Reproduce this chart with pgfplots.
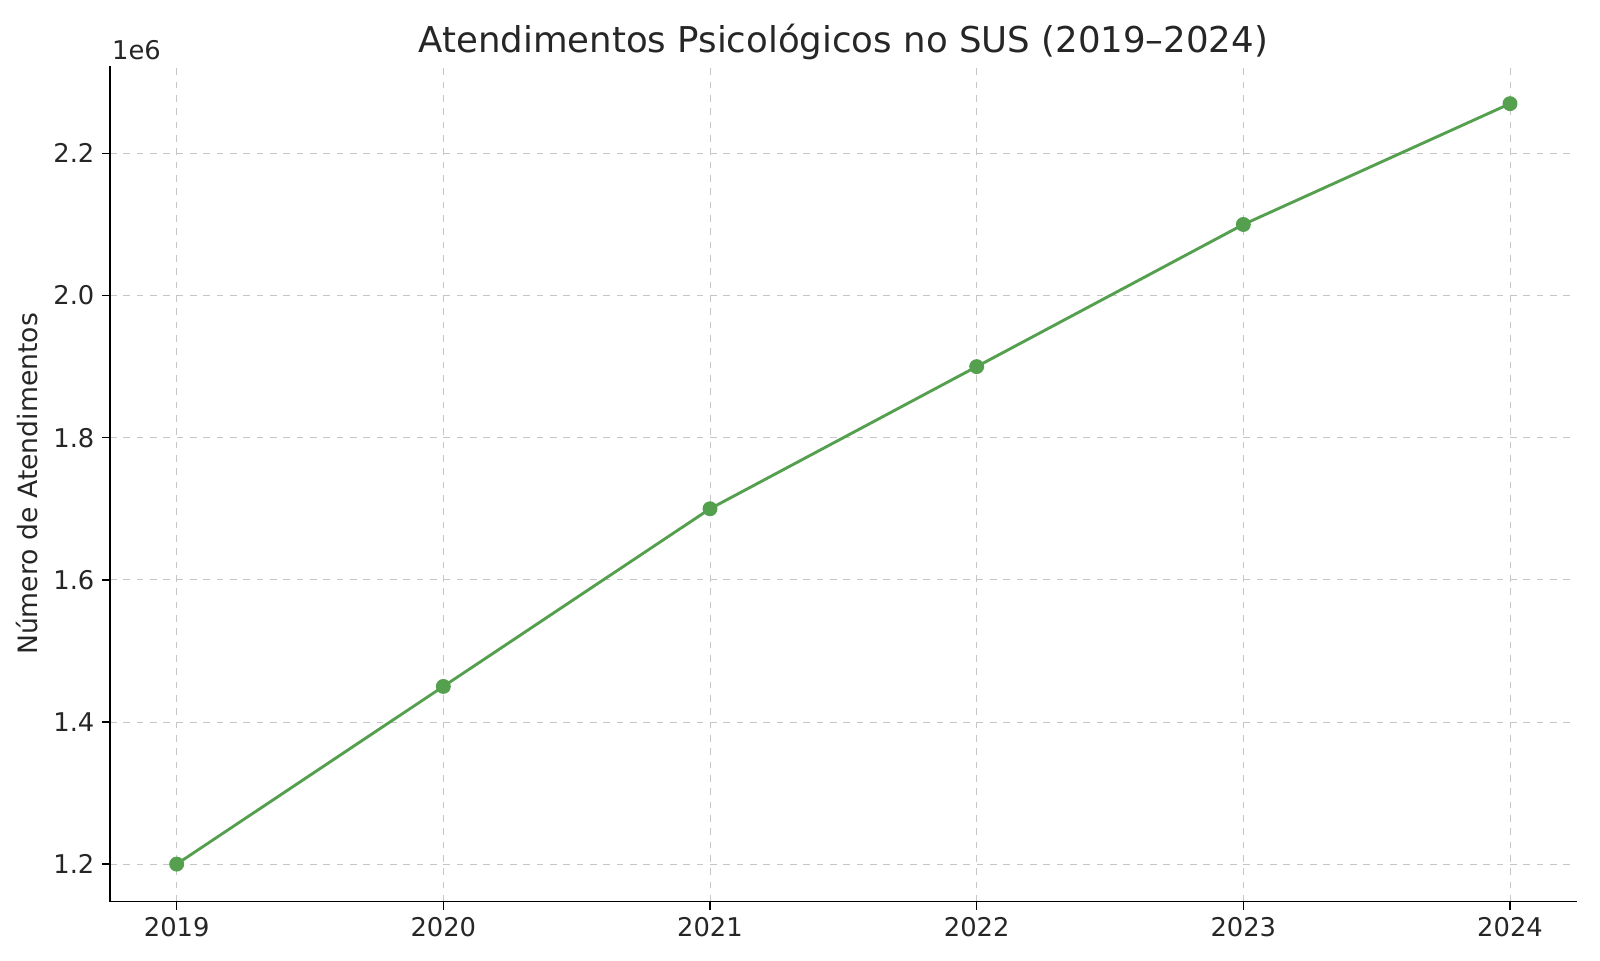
\documentclass[border=0pt]{standalone}
\usepackage{pgfplots}
\pgfplotsset{compat=1.18}
\usepackage{fontspec}
\setmainfont{DejaVu Sans}
\definecolor{linegreen}{RGB}{84,160,78}
\definecolor{txt}{RGB}{38,38,38}

\begin{document}
\begin{tikzpicture}
  % fixed page of 1600x960 px (0.45pt per px)
  \useasboundingbox (0,0) rectangle (720pt,432pt);
  \begin{axis}[
    at={(49.5pt,26.2pt)},
    anchor=south west,
    width=660pt,
    height=376.1pt,
    scale only axis,
    xmin=2018.75, xmax=2024.25,
    ymin=1.147, ymax=2.323,
    xtick={2019,2020,2021,2022,2023,2024},
    ytick={1.2,1.4,1.6,1.8,2.0,2.2},
    xticklabel style={/pgf/number format/1000 sep={}},
    yticklabel style={/pgf/number format/fixed,/pgf/number format/precision=1,/pgf/number format/fixed zerofill},
    /pgf/number format/assume math mode=true,
    axis x line*=bottom,
    axis y line*=left,
    axis line style={black, line width=0.6pt, -},
    tick style={black, line width=0.6pt},
    tick align=outside,
    major tick length=3.5pt,
    xmajorgrids, ymajorgrids,
    grid style={dashed, gray!45, line width=0.4pt},
    tick label style={font=\fontsize{11.6}{14}\selectfont, text=txt},
    ylabel={Número de Atendimentos},
    ylabel style={font=\fontsize{12}{14}\selectfont, text=txt},
    title={Atendimentos Psicológicos no SUS (2019–2024)},
    title style={font=\fontsize{16}{19}\selectfont, text=txt, at={(rel axis cs:0.5,1)}, anchor=base, yshift=0pt},
    clip=false,
  ]
    \addplot[color=linegreen, line width=1.3pt, mark=*, mark size=2.7pt,
             mark options={fill=linegreen, draw=linegreen}] coordinates {
      (2019,1.20)
      (2020,1.45)
      (2021,1.70)
      (2022,1.90)
      (2023,2.10)
      (2024,2.27)
    };
    \node[anchor=base west, font=\fontsize{11.6}{14}\selectfont, text=txt, inner sep=0pt]
      at (rel axis cs:0,1) [xshift=0.8pt, yshift=3pt] {1e6};
  \end{axis}
\end{tikzpicture}
\end{document}
